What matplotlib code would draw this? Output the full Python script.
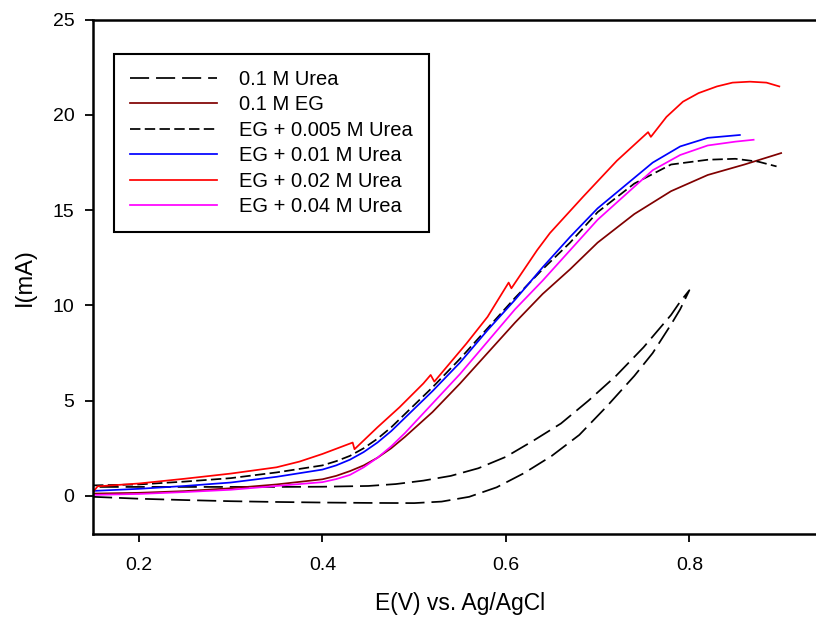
import matplotlib
matplotlib.use("Agg")
import matplotlib.pyplot as plt

plt.rcParams['font.family'] = ['Liberation Sans', 'DejaVu Sans']

# 0.1 M Urea: forward scan then return scan (CV loop)
urea_e = [0.15, 0.20, 0.25, 0.30, 0.35, 0.40, 0.45, 0.50, 0.53, 0.56, 0.59, 0.62,
          0.65, 0.68, 0.71, 0.74, 0.76, 0.78, 0.79, 0.80,
          0.79, 0.78, 0.75, 0.72, 0.69, 0.66, 0.63, 0.60, 0.57, 0.54, 0.51, 0.48,
          0.45, 0.40, 0.35, 0.30, 0.25, 0.20, 0.15]
urea_i = [-0.05, -0.15, -0.22, -0.28, -0.32, -0.35, -0.37, -0.38, -0.3, -0.05, 0.45, 1.2,
          2.1, 3.2, 4.7, 6.3, 7.5, 9.0, 9.8, 10.8,
          10.2, 9.5, 7.8, 6.3, 5.0, 3.8, 2.9, 2.05, 1.45, 1.05, 0.8, 0.62,
          0.52, 0.48, 0.47, 0.47, 0.47, 0.47, 0.47]

# 0.1 M EG
eg_e = [0.15, 0.20, 0.25, 0.30, 0.35, 0.40, 0.415, 0.43, 0.445, 0.46, 0.475, 0.49,
        0.52, 0.55, 0.58, 0.61, 0.64, 0.67, 0.70, 0.74, 0.78, 0.82, 0.86, 0.90]
eg_i = [0.12, 0.16, 0.25, 0.40, 0.60, 0.87, 1.05, 1.3, 1.6, 2.0, 2.5, 3.1,
        4.4, 5.9, 7.5, 9.1, 10.6, 11.9, 13.3, 14.8, 16.0, 16.85, 17.4, 18.0]

# EG + 0.005 M Urea
u005_e = [0.15, 0.20, 0.25, 0.30, 0.35, 0.40, 0.415, 0.43, 0.445, 0.46, 0.475, 0.49,
          0.52, 0.55, 0.58, 0.61, 0.64, 0.67, 0.70, 0.74, 0.78, 0.82, 0.85, 0.875, 0.895]
u005_i = [0.55, 0.60, 0.75, 0.93, 1.23, 1.6, 1.82, 2.1, 2.5, 3.0, 3.6, 4.3,
          5.7, 7.2, 8.8, 10.4, 11.9, 13.3, 14.9, 16.4, 17.4, 17.65, 17.7, 17.55, 17.3]

# EG + 0.01 M Urea
u01_e = [0.15, 0.20, 0.25, 0.30, 0.35, 0.40, 0.415, 0.43, 0.445, 0.46, 0.475, 0.49,
         0.52, 0.55, 0.58, 0.61, 0.64, 0.67, 0.70, 0.73, 0.76, 0.79, 0.82, 0.855]
u01_i = [0.26, 0.37, 0.52, 0.70, 1.0, 1.38, 1.6, 1.9, 2.3, 2.8, 3.4, 4.1,
         5.5, 7.0, 8.7, 10.3, 12.0, 13.6, 15.1, 16.3, 17.5, 18.35, 18.8, 18.95]

# EG + 0.02 M Urea
u02_e = [0.15, 0.155, 0.17, 0.20, 0.25, 0.30, 0.35, 0.375, 0.40, 0.433, 0.435, 0.46,
         0.484, 0.51, 0.518, 0.522, 0.557, 0.58, 0.603, 0.606, 0.634, 0.648, 0.684,
         0.721, 0.755, 0.758, 0.775, 0.793, 0.81, 0.83, 0.847, 0.866, 0.884, 0.898]
u02_i = [0.2, 0.5, 0.55, 0.65, 0.9, 1.17, 1.5, 1.8, 2.2, 2.8, 2.45, 3.6,
         4.65, 5.9, 6.35, 6.0, 8.0, 9.4, 11.2, 10.9, 12.9, 13.8, 15.7,
         17.6, 19.1, 18.85, 19.9, 20.7, 21.15, 21.5, 21.7, 21.75, 21.7, 21.5]

# EG + 0.04 M Urea
u04_e = [0.15, 0.20, 0.25, 0.30, 0.35, 0.40, 0.415, 0.43, 0.445, 0.46, 0.475, 0.49,
         0.52, 0.55, 0.58, 0.61, 0.64, 0.67, 0.70, 0.73, 0.76, 0.79, 0.82, 0.85, 0.87]
u04_i = [0.05, 0.10, 0.20, 0.32, 0.52, 0.72, 0.88, 1.1, 1.5, 2.0, 2.6, 3.3,
         4.85, 6.4, 8.1, 9.8, 11.3, 12.9, 14.5, 15.8, 17.1, 17.9, 18.4, 18.6, 18.7]

fig = plt.figure(figsize=(8.16, 6.18), dpi=100)
ax = fig.add_axes([0.114, 0.136, 0.8995, 0.832])

lw = 1.25
ax.plot(urea_e, urea_i, color='black', lw=lw, dashes=(11, 4), label='0.1 M Urea')
ax.plot(eg_e, eg_i, color='#800000', lw=lw, label='0.1 M EG')
ax.plot(u005_e, u005_i, color='black', lw=lw, dashes=(6, 2.5), label='EG + 0.005 M Urea')
ax.plot(u01_e, u01_i, color='#0000FF', lw=lw, label='EG + 0.01 M Urea')
ax.plot(u02_e, u02_i, color='#FF0000', lw=lw, label='EG + 0.02 M Urea')
ax.plot(u04_e, u04_i, color='#FF00FF', lw=lw, label='EG + 0.04 M Urea')

ax.set_xlim(0.15, 0.95)
ax.set_ylim(-2, 25)
ax.set_xticks([0.2, 0.4, 0.6, 0.8])
ax.set_yticks([0, 5, 10, 15, 20, 25])
ax.tick_params(direction='out', length=5.5, width=1.3, labelsize=14)
ax.tick_params(axis='x', pad=11)
ax.tick_params(axis='y', pad=8)
for s in ax.spines.values():
    s.set_linewidth(1.8)

ax.set_xlabel('E(V) vs. Ag/AgCl', fontsize=16.5, labelpad=13)
ax.set_ylabel('I(mA)', fontsize=17, labelpad=12)

leg = ax.legend(loc='upper left', bbox_to_anchor=(0.0286, 0.934), borderaxespad=0,
                fontsize=14.5, handlelength=4.3, handletextpad=1.1, labelspacing=0.32,
                borderpad=0.8, fancybox=False, framealpha=1, edgecolor='black')
leg.get_frame().set_linewidth(1.5)

fig.savefig('out.png', dpi=100)
